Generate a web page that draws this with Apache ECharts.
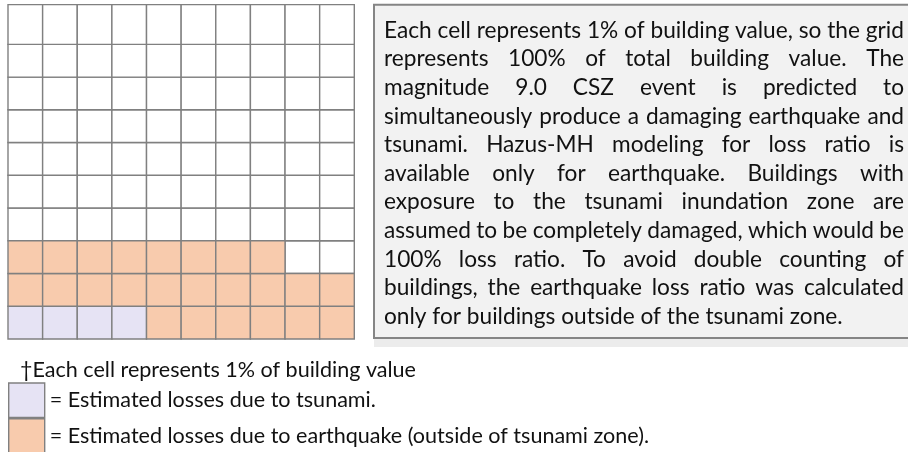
<!DOCTYPE html>
<html>
<head>
<meta charset="utf-8">
<script src="https://cdn.jsdelivr.net/npm/echarts@6/dist/echarts.min.js"></script>
<style>
  html, body { margin: 0; padding: 0; background: #ffffff; }
  #chart { width: 908px; height: 452px; }
</style>
</head>
<body>
<div id="chart"></div>
<script>
// Share of total building value lost (each cell = 1%)
const lossCategories = [
  'Estimated losses due to tsunami.',
  'Estimated losses due to earthquake (outside of tsunami zone).'
];
const lossPercent = [4, 24];
const lossColors = ['#E6E3F4', '#F8CBAD'];
const gridCols = 10;
const gridRows = 10;

const footnote = '\u2020Each cell represents 1% of building value';
const noteLines = [
  'Each cell represents 1% of building value, so the grid',
  'represents 100% of total building value. The',
  'magnitude 9.0 CSZ event is predicted to',
  'simultaneously produce a damaging earthquake and',
  'tsunami. Hazus-MH modeling for loss ratio is',
  'available only for earthquake. Buildings with',
  'exposure to the tsunami inundation zone are',
  'assumed to be completely damaged, which would be',
  '100% loss ratio. To avoid double counting of',
  'buildings, the earthquake loss ratio was calculated',
  'only for buildings outside of the tsunami zone.'
];

const FONT = 'Lato';
const TEXT_COLOR = '#111111';
const CELL_STROKE = '#808080';

// Measure text for the justified note and font sizing
const measureCtx = document.createElement('canvas').getContext('2d');
function textWidth(s, size) {
  measureCtx.font = size + 'px ' + FONT;
  return measureCtx.measureText(s).width;
}

// Note layout
const noteLeft = 384, noteRight = 904, noteBaseline0 = 38, noteLineStep = 28.6;
const fontSize = 100 * (noteRight - noteLeft) / textWidth(noteLines[0], 100);
const keyFontSize = fontSize * 0.95;

// Fill cells row by row from the bottom-left: tsunami first, then earthquake
const cellsByType = lossCategories.map(() => []);
const emptyCells = [];
const typeOfIndex = [];
lossPercent.forEach((n, t) => { for (let k = 0; k < n; k++) typeOfIndex.push(t); });
for (let i = 0; i < gridCols * gridRows; i++) {
  const col = i % gridCols;
  const row = Math.floor(i / gridCols);
  const t = i < typeOfIndex.length ? typeOfIndex[i] : -1;
  if (t < 0) emptyCells.push([col, row]);
  else cellsByType[t].push([col, row]);
}

const TOP_ROW_EXTRA = 7;
function renderCell(params, api) {
  const c = api.value(0), r = api.value(1);
  const p0 = api.coord([c, r + 1]);
  const p1 = api.coord([c + 1, r]);
  let top = p0[1];
  if (r === gridRows - 1) top -= TOP_ROW_EXTRA;
  return {
    type: 'rect',
    shape: { x: p0[0], y: top, width: p1[0] - p0[0], height: p1[1] - top },
    style: { fill: api.visual('color'), stroke: CELL_STROKE, lineWidth: 1.4 }
  };
}

// Justified paragraph as positioned words
const noteGraphics = [];
noteLines.forEach((line, i) => {
  const baseline = noteBaseline0 + i * noteLineStep;
  const y = baseline - fontSize * 0.33;
  const words = line.split(' ');
  const isLast = i === noteLines.length - 1;
  if (isLast || words.length < 2) {
    noteGraphics.push({
      type: 'text', x: noteLeft, y: y, z: 10,
      style: { text: line, fontSize: fontSize, fontFamily: FONT, fill: TEXT_COLOR, verticalAlign: 'middle', align: 'left' }
    });
    return;
  }
  const widths = words.map(w => textWidth(w, fontSize));
  const sum = widths.reduce((a, b) => a + b, 0);
  const gap = (noteRight - noteLeft - sum) / (words.length - 1);
  let x = noteLeft;
  words.forEach((w, k) => {
    noteGraphics.push({
      type: 'text', x: x, y: y, z: 10,
      style: { text: w, fontSize: fontSize, fontFamily: FONT, fill: TEXT_COLOR, verticalAlign: 'middle', align: 'left' }
    });
    x += widths[k] + gap;
  });
});

const chart = echarts.init(document.getElementById('chart'), null, { renderer: 'canvas' });

const series = [{
  name: 'empty',
  type: 'custom',
  renderItem: renderCell,
  itemStyle: { color: '#ffffff' },
  data: emptyCells,
  silent: true
}].concat(lossCategories.map((name, t) => ({
  name: name,
  type: 'custom',
  renderItem: renderCell,
  itemStyle: { color: lossColors[t] },
  data: cellsByType[t],
  silent: true
})));

chart.setOption({
  animation: false,
  backgroundColor: '#ffffff',
  grid: { left: 8, top: 11.6, width: 346.3, height: 327.4 },
  xAxis: { type: 'value', min: 0, max: gridCols, show: false },
  yAxis: { type: 'value', min: 0, max: gridRows, show: false },
  legend: {
    orient: 'vertical',
    left: 8,
    top: 382.3,
    width: 800,
    height: 100,
    itemWidth: 36,
    itemHeight: 34.4,
    itemGap: 0,
    padding: 0,
    icon: 'rect',
    selectedMode: false,
    data: lossCategories,
    formatter: name => '= ' + name,
    itemStyle: { borderColor: CELL_STROKE, borderWidth: 1.4 },
    textStyle: { fontSize: keyFontSize, fontFamily: FONT, color: TEXT_COLOR }
  },
  graphic: [
    { type: 'rect', z: 1, shape: { x: 374, y: 338.5, width: 600, height: 8.5 }, style: { fill: '#ececec' } },
    { type: 'rect', z: 2, shape: { x: 374, y: 4.7, width: 600, height: 333.3 }, style: { fill: '#f2f2f2', stroke: '#858585', lineWidth: 2 } },
    {
      type: 'text', x: 20, y: 370, z: 10,
      style: { text: footnote, fontSize: keyFontSize, fontFamily: FONT, fill: TEXT_COLOR, verticalAlign: 'middle', align: 'left' }
    }
  ].concat(noteGraphics),
  series: series
});
</script>
</body>
</html>
